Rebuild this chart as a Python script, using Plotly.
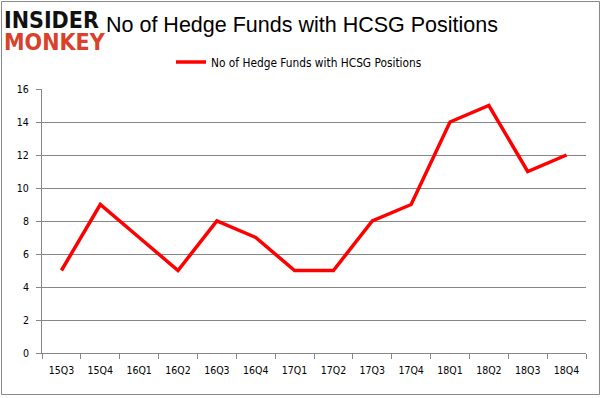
import plotly.graph_objects as go

categories = ["15Q3", "15Q4", "16Q1", "16Q2", "16Q3", "16Q4", "17Q1", "17Q2",
              "17Q3", "17Q4", "18Q1", "18Q2", "18Q3", "18Q4"]
hedge_funds = [5, 9, 7, 5, 8, 7, 5, 5, 8, 9, 14, 15, 11, 12]
y_ticks = [0, 2, 4, 6, 8, 10, 12, 14, 16]
series_name = "No of Hedge Funds with HCSG Positions"
title_text = "No of Hedge Funds with HCSG Positions"

W, H = 602, 398
L, R, T, B = 42, 16, 89, 45
pw, ph = W - L - R, H - T - B

def px_x(x):
    return (x - L) / pw

def px_y(y):
    return (H - B - y) / ph

COND = "DejaVu Sans Condensed, DejaVu Sans, sans-serif"

fig = go.Figure()
fig.add_trace(go.Scatter(
    x=categories, y=hedge_funds, mode="lines", name=series_name,
    line=dict(color="#ff0000", width=3.5),
))

tick_font = dict(family=COND, size=10.5, color="#000000")
fig.update_layout(
    width=W, height=H,
    margin=dict(l=L, r=R, t=T, b=B),
    paper_bgcolor="white", plot_bgcolor="white",
    showlegend=True,
    legend=dict(orientation="h", x=px_x(171), xanchor="left", y=px_y(62), yanchor="middle",
                font=dict(family=COND, size=11.8, color="#000000"),
                bgcolor="rgba(0,0,0,0)"),
    xaxis=dict(type="category", range=[-0.5, len(categories) - 0.5], automargin=False,
               showgrid=False, showline=True, linecolor="#868686", linewidth=1,
               ticks="outside", tickson="boundaries", ticklen=5, tickcolor="#868686",
               ticklabelstandoff=7,
               tickfont=tick_font, zeroline=False, fixedrange=True),
    yaxis=dict(range=[0, 16], tickvals=y_ticks, showgrid=True, gridcolor="#868686",
               gridwidth=1, showline=True, linecolor="#868686", linewidth=1,
               automargin=False, ticklabelstandoff=5,
               ticks="outside", ticklen=5, tickcolor="#868686", tickfont=tick_font,
               zeroline=False, fixedrange=True),
    annotations=[
        dict(text="<b>INSIDER</b>", x=px_x(2), y=px_y(20), xref="paper", yref="paper",
             xanchor="left", yanchor="middle", showarrow=False,
             font=dict(family=COND, size=23, color="#111111")),
        dict(text="<b>MONKEY</b>", x=px_x(2), y=px_y(42), xref="paper", yref="paper",
             xanchor="left", yanchor="middle", showarrow=False,
             font=dict(family=COND, size=23, color="#d9412b")),
        dict(text=title_text, x=px_x(104), y=px_y(25), xref="paper", yref="paper",
             xanchor="left", yanchor="middle", showarrow=False,
             font=dict(family="Liberation Sans, Arial, sans-serif", size=21.5, color="#000000")),
    ],
    shapes=[
        dict(type="rect", xref="paper", yref="paper",
             x0=px_x(1.5), x1=px_x(599.5), y0=px_y(394.5), y1=px_y(1.5),
             line=dict(color="#888888", width=1), layer="below"),
    ],
)

fig.write_html("out.html", config={"displayModeBar": False},
               post_script="document.body.style.margin='0';")
